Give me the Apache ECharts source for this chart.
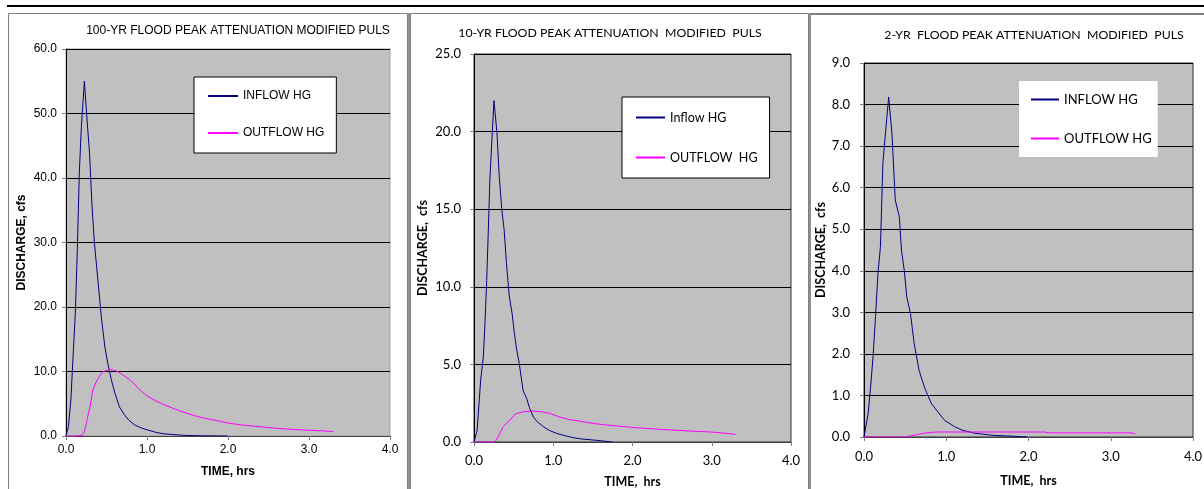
<!DOCTYPE html>
<html>
<head>
<meta charset="utf-8">
<script src="https://cdn.jsdelivr.net/npm/echarts@6/dist/echarts.min.js"></script>
<style>
  html, body { margin: 0; padding: 0; background: #fff; }
  #echartsShow { width: 1204px; height: 489px; }
</style>
</head>
<body>
<div id="echartsShow"></div>
<script>
// 100-yr storm (hrs, cfs)
var in100T = [0, 0.03, 0.06, 0.09, 0.115, 0.14, 0.165, 0.19, 0.227, 0.26, 0.29, 0.32, 0.35, 0.38, 0.41, 0.44, 0.48, 0.52, 0.56, 0.60, 0.66, 0.72, 0.78, 0.85, 0.92, 0.99, 1.1, 1.2, 1.3, 1.4, 1.5, 1.7, 2.0];
var in100Q = [0, 1.5, 5.6, 13, 19, 29, 41, 48, 55, 49, 44, 36, 30, 26, 22, 18, 13.8, 11, 8.7, 6.8, 4.5, 3.3, 2.4, 1.7, 1.3, 1.0, 0.6, 0.35, 0.25, 0.15, 0.08, 0.03, 0];
var out100T = [0, 0.1, 0.2, 0.23, 0.26, 0.3, 0.33, 0.37, 0.41, 0.45, 0.5, 0.55, 0.6, 0.65, 0.7, 0.8, 0.9, 1.0, 1.1, 1.2, 1.32, 1.45, 1.6, 1.73, 1.9, 2.0, 2.15, 2.3, 2.5, 2.7, 2.9, 3.0, 3.15, 3.3];
var out100Q = [0, 0, 0.1, 0.8, 2.5, 4.8, 7.1, 8.3, 9.2, 9.9, 10.2, 10.3, 10.2, 9.9, 9.5, 8.6, 7.3, 6.2, 5.5, 4.9, 4.3, 3.7, 3.1, 2.7, 2.3, 2.0, 1.75, 1.55, 1.3, 1.1, 0.95, 0.9, 0.8, 0.7];

// 10-yr storm
var in10T = [0, 0.04, 0.084, 0.118, 0.14, 0.16, 0.18, 0.2, 0.252, 0.29, 0.32, 0.35, 0.38, 0.41, 0.445, 0.48, 0.51, 0.54, 0.57, 0.6, 0.62, 0.665, 0.7, 0.75, 0.8, 0.875, 0.95, 1.04, 1.15, 1.25, 1.35, 1.5, 1.6, 1.74];
var in10Q = [0, 0.77, 4, 5.5, 7.8, 10.4, 13.5, 16.9, 22, 19.9, 17, 15, 13.7, 11.5, 9.4, 8.3, 7, 5.9, 5.1, 4, 3.3, 2.8, 2.2, 1.6, 1.3, 0.99, 0.75, 0.56, 0.4, 0.28, 0.2, 0.13, 0.08, 0];
var out10T = [0, 0.265, 0.3, 0.37, 0.45, 0.52, 0.62, 0.73, 0.85, 0.95, 1.085, 1.2, 1.35, 1.5, 1.7, 2.0, 2.25, 2.5, 2.75, 3.0, 3.15, 3.3];
var out10Q = [0, 0, 0.3, 1.0, 1.4, 1.8, 1.95, 2.0, 1.95, 1.85, 1.6, 1.45, 1.33, 1.2, 1.08, 0.94, 0.85, 0.77, 0.7, 0.64, 0.57, 0.49];

// 2-yr storm
var in2T = [0, 0.05, 0.08, 0.11, 0.14, 0.17, 0.2, 0.23, 0.256, 0.3, 0.34, 0.38, 0.43, 0.455, 0.49, 0.52, 0.565, 0.61, 0.67, 0.71, 0.75, 0.82, 0.9, 0.98, 1.1, 1.2, 1.35, 1.57, 1.8, 1.98];
var in2Q = [0, 0.56, 1.2, 1.93, 2.9, 3.94, 4.58, 6.6, 7.2, 8.18, 7.3, 5.7, 5.3, 4.5, 4.0, 3.37, 2.97, 2.25, 1.6, 1.35, 1.12, 0.8, 0.6, 0.4, 0.25, 0.16, 0.09, 0.04, 0.02, 0];
var out2T = [0, 0.5, 0.6, 0.7, 0.8, 0.9, 2.2, 2.25, 3.25, 3.3];
var out2Q = [0, 0, 0.04, 0.08, 0.11, 0.12, 0.12, 0.1, 0.1, 0.07];

var xTicks = [0, 1, 2, 3, 4];

function pairs(t, q) {
    return t.map(function (x, i) { return [x, q[i]]; });
}

var arial = '"Liberation Sans", Arial, sans-serif';
var cal = 'Lato, "Noto Sans", sans-serif';
var inColor = '#000080';
var outColor = '#ff00ff';

// one panel = grid + axes; fonts differ between the arial panel and the other two
function xAxisFor(idx, font, fs, nfs, margin, gap) {
    return {
        gridIndex: idx, type: 'value', min: xTicks[0], max: xTicks[xTicks.length - 1], interval: 1,
        name: idx == 0 ? 'TIME, hrs' : 'TIME,  hrs', nameLocation: 'middle', nameGap: gap,
        nameTextStyle: { fontFamily: font, fontWeight: 'bold', fontSize: nfs, color: '#000' },
        axisLine: { lineStyle: { color: '#404040', width: 1 } },
        axisTick: { show: true, length: 4, lineStyle: { color: '#808080' } },
        axisLabel: { margin: margin, fontFamily: font, fontSize: fs, color: '#000', formatter: function (v) { return v.toFixed(1); } },
        splitLine: { show: false }
    };
}
function yAxisFor(idx, font, fs, nfs, max, step, margin, gap) {
    return {
        gridIndex: idx, type: 'value', min: 0, max: max, interval: step,
        name: idx == 0 ? 'DISCHARGE, cfs' : 'DISCHARGE,  cfs', nameLocation: 'middle', nameGap: gap, nameRotate: 90,
        nameTextStyle: { fontFamily: font, fontWeight: 'bold', fontSize: nfs, color: '#000' },
        axisLine: { lineStyle: { color: '#000', width: 1 } },
        axisTick: { show: true, length: 4, lineStyle: { color: '#808080' } },
        axisLabel: { margin: margin, fontFamily: font, fontSize: fs, color: '#000', formatter: function (v) { return v.toFixed(1); } },
        splitLine: { show: true, lineStyle: { color: '#000', width: 1 } }
    };
}
function line(name, t, q, idx, color) {
    return {
        name: name, type: 'line', xAxisIndex: idx, yAxisIndex: idx,
        data: pairs(t, q), symbol: 'none', smooth: false,
        lineStyle: { color: color, width: 1 }, itemStyle: { color: color }
    };
}

var echartsShow = echarts.init(document.getElementById('echartsShow'));
var option = {
    animation: false,
    backgroundColor: '#fff',
    graphic: [
        { type: 'rect', shape: { x: 7, y: 5, width: 1197, height: 2 }, style: { fill: '#000' } },
        { type: 'rect', shape: { x: 8.5, y: 13.5, width: 399, height: 490 }, style: { fill: null, stroke: '#808080', lineWidth: 1 } },
        { type: 'rect', shape: { x: 408, y: 13, width: 2, height: 480 }, style: { fill: '#909090' } },
        { type: 'rect', shape: { x: 410.5, y: 13.5, width: 398, height: 490 }, style: { fill: null, stroke: '#808080', lineWidth: 1 } },
        { type: 'rect', shape: { x: 809, y: 13, width: 2, height: 480 }, style: { fill: '#909090' } },
        { type: 'rect', shape: { x: 811, y: 13, width: 400, height: 2 }, style: { fill: '#808080' } }
    ],
    title: [
        { text: '100-YR FLOOD PEAK ATTENUATION MODIFIED PULS', left: 238, top: 25, textAlign: 'center', padding: 0,
          textStyle: { fontFamily: arial, fontSize: 12, fontWeight: 'normal', color: '#000' } },
        { text: '10-YR FLOOD PEAK ATTENUATION  MODIFIED  PULS', left: 610, top: 27, textAlign: 'center', padding: 0,
          textStyle: { fontFamily: cal, fontSize: 12.3, fontWeight: 'normal', color: '#000' } },
        { text: '2-YR  FLOOD PEAK ATTENUATION  MODIFIED  PULS', left: 1034, top: 29, textAlign: 'center', padding: 0,
          textStyle: { fontFamily: cal, fontSize: 12.3, fontWeight: 'normal', color: '#000' } }
    ],
    legend: [
        { left: 194, top: 77, orient: 'vertical', padding: [13, 12, 14, 13], itemGap: 25, itemWidth: 30, itemHeight: 14,
          backgroundColor: '#fff', borderColor: '#000', borderWidth: 1, selectedMode: false,
          itemStyle: { opacity: 0 },
          data: ['INFLOW HG', 'OUTFLOW HG'], textStyle: { fontFamily: arial, fontSize: 12, color: '#000' } },
        { left: 622, top: 97, orient: 'vertical', padding: [14, 12, 14, 13], itemGap: 27, itemWidth: 29, itemHeight: 14,
          backgroundColor: '#fff', borderColor: '#000', borderWidth: 1, selectedMode: false,
          itemStyle: { opacity: 0 },
          data: ['Inflow HG', 'OUTFLOW  HG'], textStyle: { fontFamily: cal, fontSize: 12.5, color: '#000' } },
        { left: 1019, top: 81, orient: 'vertical', padding: [12, 6, 12, 11], itemGap: 26, itemWidth: 28, itemHeight: 14,
          backgroundColor: '#fff', borderWidth: 0, selectedMode: false,
          itemStyle: { opacity: 0 },
          data: ['INFLOW HG', 'OUTFLOW HG'], textStyle: { fontFamily: cal, fontSize: 13, color: '#000' } }
    ],
    grid: [
        { left: 66, top: 49, width: 324, height: 387, outerBoundsMode: 'none', show: true, backgroundColor: '#c0c0c0', borderColor: '#a0a0a0', borderWidth: 1 },
        { left: 474, top: 54, width: 317, height: 388, outerBoundsMode: 'none', show: true, backgroundColor: '#c0c0c0', borderColor: '#303030', borderWidth: 1 },
        { left: 864, top: 63, width: 329, height: 374, outerBoundsMode: 'none', show: true, backgroundColor: '#c0c0c0', borderColor: '#303030', borderWidth: 1 }
    ],
    xAxis: [
        xAxisFor(0, arial, 12, 12, 8, 30),
        xAxisFor(1, cal, 13, 12.5, 12, 33),
        xAxisFor(2, cal, 13, 12.5, 13, 37)
    ],
    yAxis: [
        yAxisFor(0, arial, 12, 12, 60, 10, 9, 38),
        yAxisFor(1, cal, 13, 12.5, 25, 5, 13, 45),
        yAxisFor(2, cal, 13, 12.5, 9, 1, 14, 35)
    ],
    series: [
        line('INFLOW HG', in100T, in100Q, 0, inColor),
        line('OUTFLOW HG', out100T, out100Q, 0, outColor),
        line('Inflow HG', in10T, in10Q, 1, inColor),
        line('OUTFLOW  HG', out10T, out10Q, 1, outColor),
        line('INFLOW HG', in2T, in2Q, 2, inColor),
        line('OUTFLOW HG', out2T, out2Q, 2, outColor)
    ]
};
echartsShow.setOption(option);
</script>
</body>
</html>
